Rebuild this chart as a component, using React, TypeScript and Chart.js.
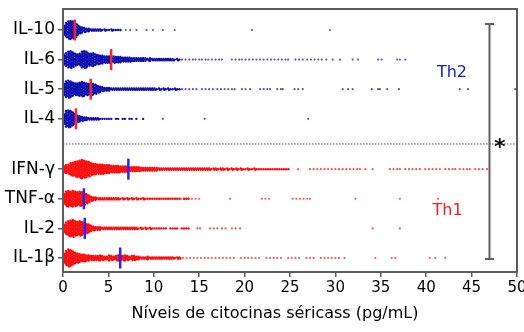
import React, { useEffect, useRef } from "react";
import { Chart, registerables } from "chart.js";

Chart.register(...registerables);

// ---------- data ----------
const ROWS = ["IL-10", "IL-6", "IL-5", "IL-4", "IFN-γ", "TNF-α", "IL-2", "IL-1β"];
const ROW_POS = [1, 2, 3, 4, 5.7, 6.7, 7.7, 8.7];
const ROW_GROUP = ["Th2", "Th2", "Th2", "Th2", "Th1", "Th1", "Th1", "Th1"];
const X_TICKS = [0, 5, 10, 15, 20, 25, 30, 35, 40, 45, 50];

// counts of observations per 0.25 pg/mL bin, starting at 0
const BIN_WIDTH = 0.25;
const IL10_COUNTS = [8, 12, 14, 15, 14, 12, 9, 6, 5, 4, 3, 3, 2, 2, 2, 2, 2, 1, 2, 1, 1, 2, 1, 1, 1, 1];
const IL6_COUNTS = [9, 11, 13, 14, 12, 10, 9, 10, 13, 14, 13, 10, 10, 11, 9, 8, 7, 7, 6, 6, 6, 5, 6, 5, 5, 5, 4, 4, 4, 4, 3, 3, 3, 3, 3, 3, 3, 2, 3, 2, 2, 2, 2, 2, 2, 2, 2, 2, 2, 1, 2, 1];
const IL5_COUNTS = [10, 13, 14, 13, 11, 10, 10, 11, 12, 11, 10, 9, 10, 9, 8, 6, 5, 4, 3, 3, 3, 2, 2, 2, 2, 2, 2, 2, 2, 2, 2, 2, 2, 2, 2, 2, 2, 2, 2, 2, 2, 1, 2, 1, 2, 1, 2, 1, 1, 2, 1, 1];
const IL4_COUNTS = [9, 13, 14, 13, 11, 8, 6, 5, 4, 3, 3, 2, 2, 2, 2, 2, 1, 1, 1, 1, 1, 1, 0, 1, 1, 0, 1, 1, 0, 1, 1, 0, 1, 0, 0, 1];
const IFNG_COUNTS = [6, 7, 8, 10, 11, 12, 13, 14, 15, 14, 13, 12, 10, 9, 9, 8, 8, 8, 7, 7, 7, 6, 6, 6, 6, 5, 5, 5, 5, 4, 4, 4, 4, 4, 3, 3, 3, 3, 3, 3, 3, 3, 2, 2, 2, 2, 2, 2, 2, 2, 2, 2, 2, 2, 2, 2, 2, 2, 2, 2, 2, 2, 2, 2, 2, 1, 2, 2, 1, 2, 2, 1, 2, 1, 2, 1, 2, 1, 2, 1, 1, 2, 1, 1, 2, 1, 1, 1, 1, 1, 1, 1, 1, 1, 1, 1, 1, 1, 1, 1];
const TNFA_COUNTS = [9, 12, 13, 12, 13, 12, 11, 12, 11, 10, 8, 6, 4, 3, 3, 2, 2, 2, 2, 2, 2, 2, 2, 2, 2, 1, 2, 1, 2, 1, 2, 1, 2, 1, 1, 2, 1, 1, 1, 1, 1, 1, 1, 1, 1, 1, 1, 1, 1, 1, 1, 1, 0, 1, 1, 1];
const IL2_COUNTS = [7, 10, 12, 13, 14, 12, 11, 12, 11, 10, 8, 7, 5, 4, 3, 3, 3, 2, 2, 2, 2, 2, 2, 2, 2, 2, 2, 2, 2, 2, 2, 2, 2, 1, 2, 1, 2, 1, 2, 1, 1, 1, 1, 1, 1, 1, 0, 1, 1, 1, 1, 0, 1, 1, 1, 1];
const IL1B_COUNTS = [8, 12, 14, 13, 11, 9, 8, 7, 6, 6, 5, 5, 4, 4, 4, 4, 5, 4, 3, 3, 5, 4, 3, 4, 5, 5, 4, 5, 4, 3, 4, 4, 3, 3, 2, 2, 2, 3, 2, 2, 2, 2, 2, 2, 2, 2, 2, 2, 2, 1, 2, 2];

// individual higher observations (pg/mL)
const IL10_SPARSE = [6.9, 7.4, 8.1, 9.2, 9.9, 11.0, 12.3, 20.8, 29.4];
const IL6_SPARSE = [13.1, 13.5, 13.9, 14.3, 14.6, 15.0, 15.3, 15.7, 16.0, 16.4, 16.8, 17.2, 17.5, 18.6, 19.0, 19.4, 19.7, 20.1, 20.5, 20.9, 21.3, 21.7, 22.1, 22.5, 22.9, 23.3, 23.7, 24.1, 24.5, 24.8, 25.6, 26.0, 26.4, 26.9, 27.3, 27.7, 28.1, 28.5, 29.0, 29.7, 30.5, 31.9, 32.5, 34.7, 35.1, 36.8, 37.1, 37.7];
const IL5_SPARSE = [13.1, 13.5, 13.9, 14.3, 14.7, 15.3, 15.7, 16.1, 16.5, 17.0, 17.4, 17.8, 18.2, 18.6, 18.9, 19.7, 20.1, 20.6, 21.7, 22.1, 22.5, 22.8, 23.6, 24.0, 24.2, 25.5, 25.9, 26.4, 30.8, 31.4, 31.9, 34.0, 34.7, 34.9, 35.7, 37.0, 43.7, 44.6, 49.8];
const IL4_SPARSE = [11.0, 15.6, 27.0];
const IFNG_SPARSE = [25.9, 27.2, 27.6, 28.0, 28.4, 28.8, 29.2, 29.6, 30.0, 30.4, 30.8, 31.2, 31.6, 32.0, 32.4, 32.7, 33.3, 34.1, 36.0, 36.4, 36.8, 37.1, 37.7, 38.1, 38.5, 38.9, 39.3, 39.9, 40.3, 40.7, 41.1, 41.5, 42.1, 42.5, 42.9, 43.2, 43.7, 44.1, 44.5, 44.8, 45.4, 45.8, 46.2, 46.7];
const TNFA_SPARSE = [13.0, 13.4, 13.8, 14.2, 14.6, 15.0, 18.4, 21.9, 22.3, 22.7, 25.3, 25.7, 26.1, 26.5, 26.9, 27.2, 32.2, 37.1, 41.3];
const IL2_SPARSE = [14.8, 15.1, 16.2, 16.6, 17.0, 17.5, 17.9, 18.6, 19.0, 19.5, 34.1, 37.1];
const IL1B_SPARSE = [13.2, 13.6, 14.0, 14.4, 14.8, 15.2, 15.6, 16.0, 16.4, 16.8, 17.2, 17.6, 18.0, 18.4, 18.8, 19.6, 20.0, 20.4, 20.8, 21.2, 21.6, 22.4, 22.8, 23.2, 23.6, 24.0, 24.8, 25.2, 25.6, 26.0, 26.8, 27.2, 27.6, 28.4, 28.8, 29.2, 29.6, 30.0, 30.4, 31.0, 34.4, 36.2, 36.6, 40.4, 41.0, 42.1];

const MEDIANS = [1.3, 5.3, 3.05, 1.43, 7.2, 2.3, 2.4, 6.3];

const COUNTS = [IL10_COUNTS, IL6_COUNTS, IL5_COUNTS, IL4_COUNTS, IFNG_COUNTS, TNFA_COUNTS, IL2_COUNTS, IL1B_COUNTS];
const SPARSE = [IL10_SPARSE, IL6_SPARSE, IL5_SPARSE, IL4_SPARSE, IFNG_SPARSE, TNFA_SPARSE, IL2_SPARSE, IL1B_SPARSE];

const X_TITLE = "Níveis de citocinas séricass (pg/mL)";
const GROUP_LABELS = [
  { text: "Th2", x: 42.84, y: 2.435 },
  { text: "Th1", x: 42.35, y: 7.096 },
];
const SEPARATOR_Y = 4.85;
const BRACKET = { x: 46.97, top: 0.8, bottom: 8.73, cap: 0.5 };
const STAR = { text: "*", x: 48.1, y: 4.82 };

// ---------- styles ----------
const FONT = '"DejaVu Sans", sans-serif';
const BLUE = "#0d0db0";
const BLUE_LIGHT = "rgba(30,30,190,0.75)";
const RED = "#ff0a0a";
const RED_LIGHT = "rgba(255,20,20,0.75)";
const AXIS_GRAY = "#5c5c5c";
const DY = 1.3 / 29.61; // vertical spacing of stacked dots in axis units
const TITLE_POS = { x: 275, y: 314 };

function swarm(counts: number[], yc: number) {
  const pts: { x: number; y: number }[] = [];
  counts.forEach((n, i) => {
    const xc = (i + 0.5) * BIN_WIDTH;
    for (let k = 0; k < n; k++) {
      const off = (k - (n - 1) / 2) * DY;
      const dx = (k % 2 === 0 ? -1 : 1) * 0.05;
      pts.push({ x: xc + dx, y: yc + off });
    }
  });
  return pts;
}

const ZERO_PAD = () => ({ left: 0, top: 0, right: 0, bottom: 0 });

const overlayPlugin = {
  id: "overlay",
  afterDatasetsDraw(chart: any) {
    const { ctx, chartArea: a, scales } = chart;
    const xs = scales.x;
    const ys = scales.y;
    ctx.save();
    ctx.strokeStyle = AXIS_GRAY;
    ctx.lineWidth = 2;
    ctx.strokeRect(a.left, a.top, a.right - a.left, a.bottom - a.top);

    ctx.font = `16px ${FONT}`;
    ctx.textAlign = "center";
    ctx.textBaseline = "middle";
    GROUP_LABELS.forEach((g) => {
      ctx.fillStyle = g.text === "Th2" ? "#1515d0" : "#ff1a1a";
      ctx.fillText(g.text, xs.getPixelForValue(g.x), ys.getPixelForValue(g.y));
    });

    ctx.fillStyle = "#000";
    ctx.fillText(X_TITLE, TITLE_POS.x, TITLE_POS.y);

    ctx.font = `bold 22px ${FONT}`;
    ctx.fillStyle = "#111";
    ctx.textBaseline = "alphabetic";
    const m = ctx.measureText(STAR.text);
    const cy = ys.getPixelForValue(STAR.y);
    const base = cy + (m.actualBoundingBoxAscent - m.actualBoundingBoxDescent) / 2;
    ctx.fillText(STAR.text, xs.getPixelForValue(STAR.x), base);
    ctx.restore();
  },
};

export default function App() {
  const ref = useRef<HTMLCanvasElement | null>(null);

  useEffect(() => {
    if (!ref.current) return;
    const datasets: any[] = [];

    ROWS.forEach((_, i) => {
      const th2 = ROW_GROUP[i] === "Th2";
      datasets.push({
        data: swarm(COUNTS[i], ROW_POS[i]),
        pointRadius: 1.2,
        pointBorderWidth: 0,
        pointBackgroundColor: th2 ? BLUE : RED,
        order: 3,
      });
      datasets.push({
        data: SPARSE[i].map((v) => ({ x: v, y: ROW_POS[i] })),
        pointRadius: 1.1,
        pointBorderWidth: 0,
        pointBackgroundColor: th2 ? BLUE_LIGHT : RED_LIGHT,
        order: 3,
      });
    });

    datasets.push({
      data: MEDIANS.map((m, i) => ({ x: m, y: ROW_POS[i] })),
      pointStyle: "line",
      rotation: 90,
      pointRadius: 10.5,
      pointBorderWidth: 2.5,
      pointBorderColor: ROW_GROUP.map((g) => (g === "Th2" ? "#ff2424" : "#2424ff")),
      order: 0,
    });

    datasets.push({
      data: [
        { x: 0, y: SEPARATOR_Y },
        { x: 50, y: SEPARATOR_Y },
      ],
      showLine: true,
      borderColor: "#555",
      borderWidth: 1,
      borderDash: [1.5, 1.5],
      pointRadius: 0,
      order: 1,
    });

    datasets.push({
      data: [
        { x: BRACKET.x - BRACKET.cap, y: BRACKET.top },
        { x: BRACKET.x + BRACKET.cap, y: BRACKET.top },
        { x: BRACKET.x, y: null },
        { x: BRACKET.x, y: BRACKET.top },
        { x: BRACKET.x, y: BRACKET.bottom },
        { x: BRACKET.x, y: null },
        { x: BRACKET.x - BRACKET.cap, y: BRACKET.bottom },
        { x: BRACKET.x + BRACKET.cap, y: BRACKET.bottom },
      ],
      showLine: true,
      spanGaps: false,
      borderColor: "#606060",
      borderWidth: 2,
      pointRadius: 0,
      order: 1,
      clip: false,
    });

    const chart = new Chart(ref.current, {
      type: "scatter",
      data: { datasets },
      options: {
        animation: false,
        responsive: false,
        events: [],
        layout: { autoPadding: false, padding: { top: 9, right: 7, left: 0, bottom: 0 } },
        plugins: { legend: { display: false }, tooltip: { enabled: false } },
        scales: {
          x: {
            type: "linear",
            position: "bottom",
            min: 0,
            max: 50,
            afterBuildTicks: (s: any) => {
              s.ticks = X_TICKS.map((v) => ({ value: v }));
            },
            ticks: {
              font: { family: FONT, size: 15 },
              color: "#000",
              padding: 2,
              maxRotation: 0,
              autoSkip: false,
            },
            grid: { drawOnChartArea: false, tickLength: 5, color: AXIS_GRAY, lineWidth: 1.5 },
            border: { display: false },
            title: { display: false },
            afterFit: (s: any) => {
              s.height = 60;
              s.paddingLeft = 0;
              s.paddingRight = 0;
              s.getPadding = ZERO_PAD;
            },
          },
          y: {
            type: "linear",
            reverse: true,
            min: 0.291,
            max: 9.173,
            afterBuildTicks: (s: any) => {
              s.ticks = ROW_POS.map((v) => ({ value: v }));
            },
            ticks: {
              callback: (_v: any, i: number) => ROWS[i],
              font: { family: FONT, size: 17 },
              color: "#000",
              padding: 3,
              autoSkip: false,
            },
            grid: { drawOnChartArea: false, tickLength: 5, color: AXIS_GRAY, lineWidth: 1.5 },
            border: { display: false },
            afterFit: (s: any) => {
              s.width = 63;
              s.paddingTop = 0;
              s.paddingBottom = 0;
              s.getPadding = ZERO_PAD;
            },
          },
        },
      },
      plugins: [overlayPlugin],
    } as any);

    return () => chart.destroy();
  }, []);

  return (
    <div style={{ position: "fixed", left: 0, top: 0, width: 524, height: 332, background: "#fff" }}>
      <canvas ref={ref} width={524} height={332} />
    </div>
  );
}
